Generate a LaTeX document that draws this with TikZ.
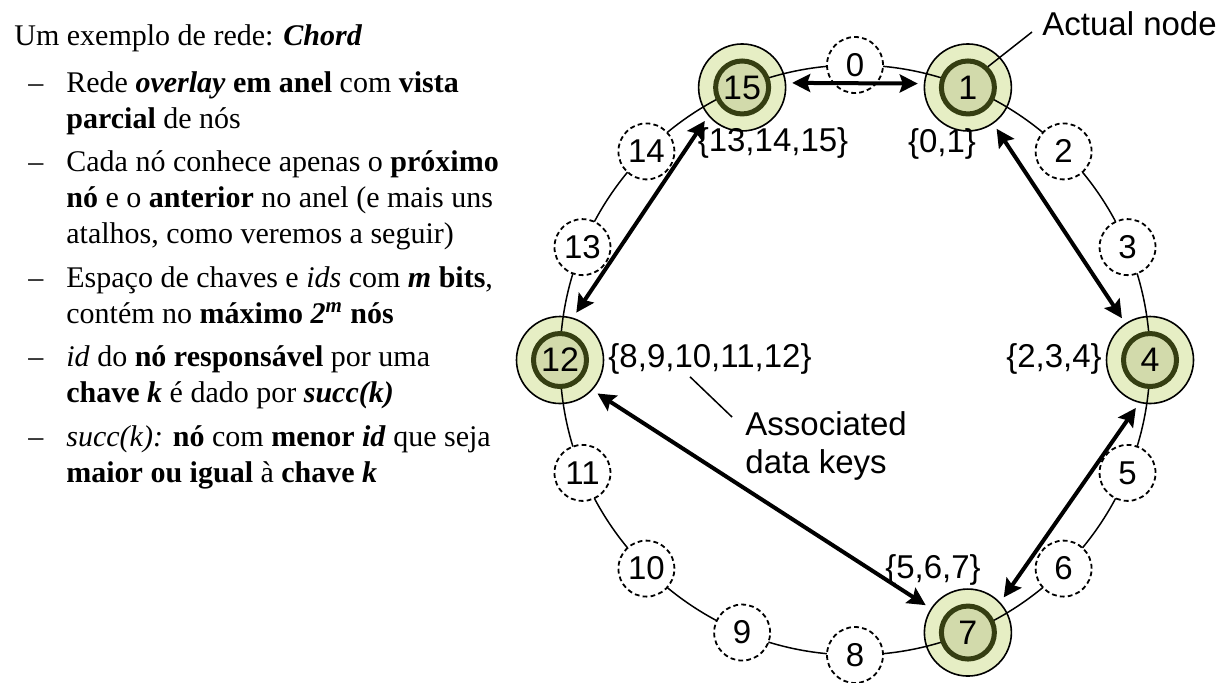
\documentclass[tikz,border=0pt]{standalone}
\usepackage{fontspec}
\setmainfont{Liberation Serif}
\newfontfamily\arialfont{Liberation Sans}
\usetikzlibrary{arrows.meta,positioning}

\definecolor{ringOuter}{HTML}{E6EEC4}
\definecolor{ringInner}{HTML}{D2DAAB}
\definecolor{ringRim}{HTML}{353E12}

\begin{document}
\begin{tikzpicture}[
    x=0.5pt, y=-0.5pt,
    peer/.style={circle, draw=black, line width=0.8pt, fill=ringOuter,
        minimum size=43.5pt, inner sep=0pt},
    core/.style={circle, draw=ringRim, line width=2.5pt, fill=ringInner,
        minimum size=26.5pt, inner sep=0pt,
        font=\arialfont\fontsize{17}{19}\selectfont},
    slot/.style={circle, draw=black, dash pattern=on 2.4pt off 1.6pt,
        line width=0.9pt, fill=white, minimum size=28pt, inner sep=0pt,
        font=\arialfont\fontsize{16.5}{19}\selectfont},
    keys/.style={font=\arialfont\fontsize{16.5}{19}\selectfont, inner sep=1pt},
    link/.style={line width=2pt,
        {Stealth[length=9pt,width=9pt,inset=1.5pt]}-{Stealth[length=9pt,width=9pt,inset=1.5pt]},
        shorten <=3pt, shorten >=3pt},
    thin/.style={line width=0.75pt},
    txt/.style={font=\fontsize{15}{18}\selectfont, anchor=base west, inner sep=0pt},
]
\useasboundingbox (0,0) rectangle (1220,682);
\def\R{295}
\coordinate (ctr) at (855,360);

% left column text
\node[txt] (title) at (14,45) {Um exemplo de rede: \textbf{\textit{Chord}}};

\node[txt] (d1) at (28,92) {\textendash};
\node[txt] (t1a) at (66,92) {Rede \textbf{\textit{overlay}} \textbf{em anel} com \textbf{vista}};
\node[txt] (t1b) at (66,128) {\textbf{parcial} de nós};

\node[txt] (d2) at (28,171) {\textendash};
\node[txt] (t2a) at (66,171) {Cada nó conhece apenas o \textbf{próximo}};
\node[txt] (t2b) at (66,207) {\textbf{nó} e o \textbf{anterior} no anel (e mais uns};
\node[txt] (t2c) at (66,243) {atalhos, como veremos a seguir)};

\node[txt] (d3) at (28,287) {\textendash};
\node[txt] (t3a) at (66,287) {Espaço de chaves e \textit{ids} com \textbf{\textit{m}} \textbf{bits},};
\node[txt] (t3b) at (66,323) {contém no \textbf{máximo \textit{2}\textsuperscript{\textit{m}}} \textbf{nós}};

\node[txt] (d4) at (28,366) {\textendash};
\node[txt] (t4a) at (66,366) {\textit{id} do \textbf{nó responsável} por uma};
\node[txt] (t4b) at (66,402) {\textbf{chave \textit{k}} é dado por \textbf{\textit{succ(k)}}};

\node[txt] (d5) at (28,446) {\textendash};
\node[txt] (t5a) at (66,446) {\textit{succ(k):} \textbf{nó} com \textbf{menor \textit{id}} que seja};
\node[txt] (t5b) at (66,482) {\textbf{maior ou igual} à \textbf{chave \textit{k}}};

% actual nodes (outer disc)
\foreach \k in {1,4,7,12,15} {
    \node[peer] (n\k) at ([shift={({-90+22.5*\k}:\R)}]ctr) {};
}

% the ring
\draw[thin] (ctr) circle[radius=\R];

% inner discs of the actual nodes
\foreach \k in {1,4,7,12,15} {
    \node[core] (c\k) at (n\k) {\k};
}

% empty identifiers on the ring
\foreach \k in {0,2,3,5,6,8,9,10,11,13,14} {
    \node[slot] (k\k) at ([shift={({-90+22.5*\k}:\R)}]ctr) {\k};
}

% successor / predecessor links
\draw[link] (n15.6) -- (n1.175);
\draw[link] (n1.305) -- (n4.124);
\draw[link] (n4.256) -- (n7.43);
\draw[link] (n7.147) -- (n12.317);
\draw[link] (n12.73) -- (n15.220);

% stored keys
\node[keys] (s15) at (773,143) {\{13,14,15\}};
\node[keys] (s1) at (942,144) {\{0,1\}};
\node[keys] (s4) at (1054,359) {\{2,3,4\}};
\node[keys] (s12) at (710,359) {\{8,9,10,11,12\}};
\node[keys] (s7) at (933,570) {\{5,6,7\}};

% callouts
\node[keys, anchor=base west] (act) at (1040,35) {Actual node};
\draw[thin] (c1.46) -- ([shift={(-8,-3)}]act.base west);

\node[keys, anchor=north west, align=left] (assoc) at (743,409)
    {Associated\\data keys};
\draw[thin] ([shift={(-20,0)}]s12.south) -- ([shift={(-11,8)}]assoc.north west);

\end{tikzpicture}
\end{document}
